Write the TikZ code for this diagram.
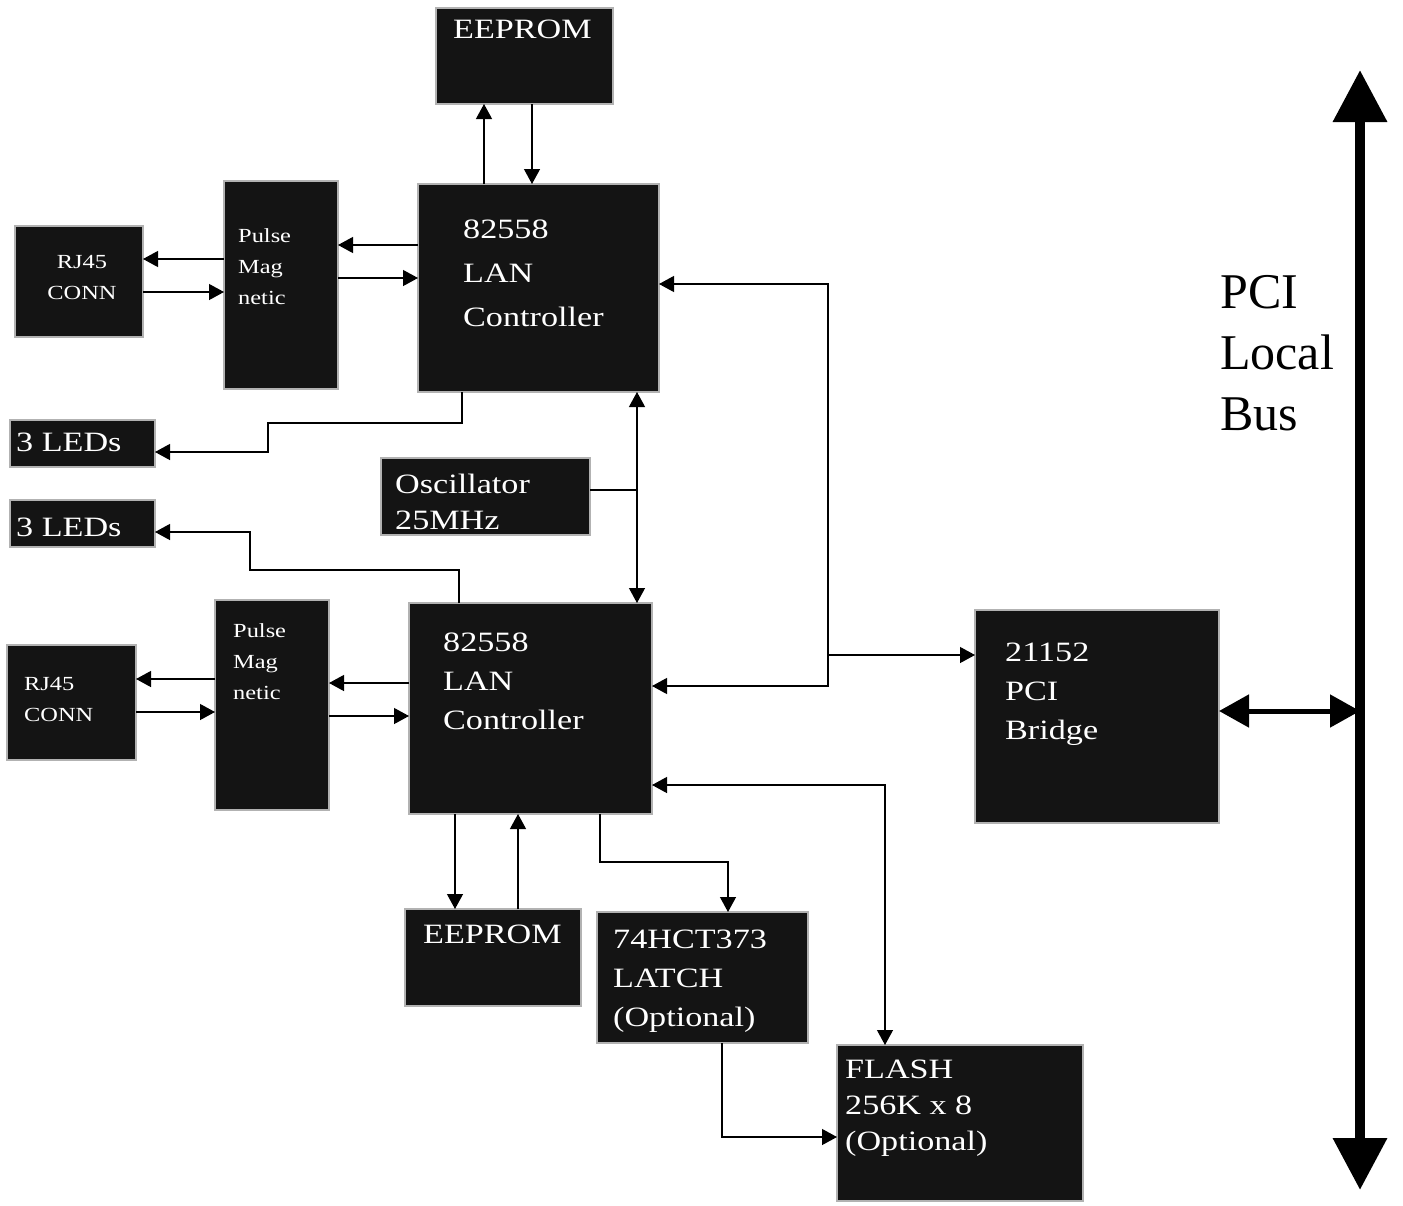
\documentclass[tikz,border=0pt]{standalone}
\usepackage{fontspec}
\setmainfont{Liberation Serif}
\newfontfamily\bxf[FakeStretch=1.22]{Liberation Serif}
\usetikzlibrary{arrows.meta}
\tikzset{
  box/.style={draw=gray!60, line width=2.5pt, fill=black!92, inner sep=0pt, outer sep=0pt, anchor=north west},
  bt/.style={text=white, anchor=north west, inner sep=0pt, align=left},
  conn/.style={line width=1.2pt, -{Triangle[length=15pt,width=16pt]}},
  conn2/.style={line width=1.2pt, {Triangle[length=15pt,width=16pt]}-{Triangle[length=15pt,width=16pt]}},
  wire/.style={line width=1.2pt},
}
\newcommand\fsA{\bxf\fontsize{28}{44}\selectfont}
\newcommand\fsB{\bxf\fontsize{28}{39}\selectfont}
\newcommand\fsS{\bxf\fontsize{20}{31}\selectfont}
\begin{document}
\begin{tikzpicture}[x=1pt,y=-1pt]
\useasboundingbox[fill=white] (0,0) rectangle (1403,1205);
% boxes
\node[box, minimum width=177pt, minimum height=96pt] (eepA) at (436,8) {};
\node[box, minimum width=241pt, minimum height=208pt] (lanA) at (418,184) {};
\node[box, minimum width=114pt, minimum height=208pt] (pulA) at (224,181) {};
\node[box, minimum width=128pt, minimum height=111pt] (rjA) at (15,226) {};
\node[box, minimum width=145pt, minimum height=47pt] (ledA) at (10,420) {};
\node[box, minimum width=145pt, minimum height=47pt] (ledB) at (10,500) {};
\node[box, minimum width=209pt, minimum height=77pt] (osc) at (381,458) {};
\node[box, minimum width=114pt, minimum height=210pt] (pulB) at (215,600) {};
\node[box, minimum width=129pt, minimum height=115pt] (rjB) at (7,645) {};
\node[box, minimum width=243pt, minimum height=211pt] (lanB) at (409,603) {};
\node[box, minimum width=244pt, minimum height=213pt] (br) at (975,610) {};
\node[box, minimum width=176pt, minimum height=97pt] (eepB) at (405,909) {};
\node[box, minimum width=211pt, minimum height=131pt] (latch) at (597,912) {};
\node[box, minimum width=246pt, minimum height=156pt] (flash) at (837,1045) {};
% texts
\node[bt, font=\fsA] (teA) at (453,20) {EEPROM};
\node[bt, font=\fsA] (tlA) at (463,220) {82558\\LAN\\Controller};
\node[bt, font=\fsS] (tpA) at (238,228) {Pulse\\Mag\\netic};
\node[bt, font=\fsS, align=center, anchor=north] (trA) at (82,255) {RJ45\\CONN};
\node[bt, font=\fsA] (tldA) at (16,433) {3 LEDs};
\node[bt, font=\fsA] (tldB) at (16,518) {3 LEDs};
\node[bt, font=\bxf\fontsize{28}{36}\selectfont] (tos) at (395,474) {Oscillator\\25MHz};
\node[bt, font=\fsS] (tpB) at (233,623) {Pulse\\Mag\\netic};
\node[bt, font=\fsS] (trB) at (24,677) {RJ45\\CONN};
\node[bt, font=\fsB] (tlB) at (443,633) {82558\\LAN\\Controller};
\node[bt, font=\fsB] (tbr) at (1005,643) {21152\\PCI\\Bridge};
\node[bt, font=\fsA] (teB) at (423,925) {EEPROM};
\node[bt, font=\fsB] (tla) at (613,930) {74HCT373\\LATCH\\(Optional)};
\node[bt, font=\bxf\fontsize{28}{36}\selectfont] (tfl) at (845,1060) {FLASH\\256K x 8\\(Optional)};
\node[anchor=north west, inner sep=0pt, align=left, font=\fontsize{50}{61}\selectfont] (pci) at (1220,275) {PCI\\Local\\Bus};
% PCI bus
\coordinate (busT) at (1360,70);
\coordinate (busB) at (1360,1190);
\coordinate (busJ) at (1360,711);
\draw[line width=10pt, {Triangle[length=52pt,width=52pt]}-{Triangle[length=52pt,width=52pt]}] (busT) -- (busB);
\draw[line width=5pt, {Triangle[length=30pt,width=32pt]}-{Triangle[length=30pt,width=32pt]}] (br.east |- busJ) -- (busJ);
% connectors
\draw[conn] (484,0 |- lanA.north) -- (484,0 |- eepA.south);
\draw[conn] (532,0 |- eepA.south) -- (532,0 |- lanA.north);
\draw[conn] (lanA.west |- 0,245) -- (pulA.east |- 0,245);
\draw[conn] (pulA.east |- 0,278) -- (lanA.west |- 0,278);
\draw[conn] (pulA.west |- 0,259) -- (rjA.east |- 0,259);
\draw[conn] (rjA.east |- 0,292) -- (pulA.west |- 0,292);
\draw[conn] (lanB.west |- 0,683) -- (pulB.east |- 0,683);
\draw[conn] (pulB.east |- 0,716) -- (lanB.west |- 0,716);
\draw[conn] (pulB.west |- 0,679) -- (rjB.east |- 0,679);
\draw[conn] (rjB.east |- 0,712) -- (pulB.west |- 0,712);
\draw[conn] (462,0 |- lanA.south) -- (462,423) -- (268,423) -- (268,452) -- (ledA.east |- 0,452);
\draw[conn] (459,0 |- lanB.north) -- (459,570) -- (250,570) -- (250,532) -- (ledB.east |- 0,532);
\draw[wire] (osc.east |- 0,490) -- (637,490);
\draw[conn2] (637,0 |- lanA.south) -- (637,0 |- lanB.north);
\draw[conn2] (lanA.east |- 0,284) -- (828,284) -- (828,686) -- (lanB.east |- 0,686);
\draw[conn] (828,655) -- (br.west |- 0,655);
\draw[conn2] (lanB.east |- 0,785) -- (885,785) -- (885,0 |- flash.north);
\draw[conn] (455,0 |- lanB.south) -- (455,0 |- eepB.north);
\draw[conn] (518,0 |- eepB.north) -- (518,0 |- lanB.south);
\draw[conn] (600,0 |- lanB.south) -- (600,862) -- (728,862) -- (728,0 |- latch.north);
\draw[conn] (722,0 |- latch.south) -- (722,1137) -- (flash.west |- 0,1137);
\end{tikzpicture}
\end{document}
